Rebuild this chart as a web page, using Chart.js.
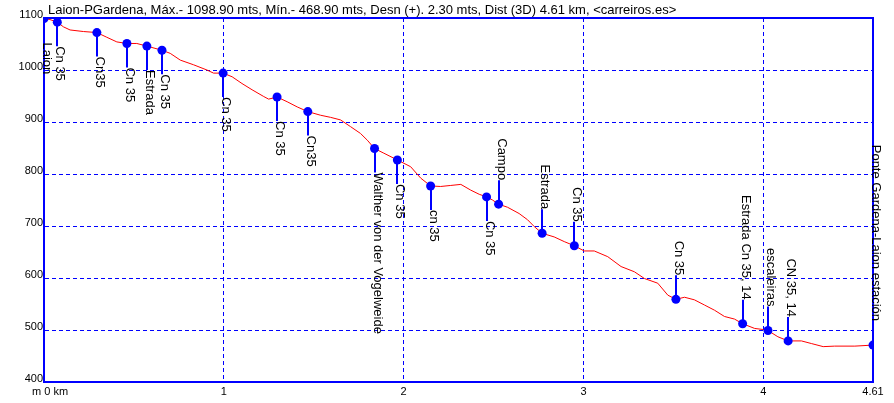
<!DOCTYPE html>
<html>
<head>
<meta charset="utf-8">
<script src="https://cdn.jsdelivr.net/npm/chart.js@4"></script>
<style>
  html, body { margin: 0; padding: 0; background: #fff; }
  canvas { display: block; }
</style>
</head>
<body>
<canvas id="perfil" width="894" height="403"></canvas>
<script>
// Titre du profil
const titulo = "Laion-PGardena, Máx.- 1098.90 mts, Mín.- 468.90 mts, Desn (+). 2.30 mts, Dist (3D) 4.61 km, <carreiros.es>";

// Profil : distance (km) et altitude (m)
const distKm = [0, 0.033, 0.074, 0.108, 0.145, 0.219, 0.294, 0.349, 0.405, 0.461, 0.516, 0.572, 0.656, 0.702,
  0.758, 0.832, 0.906, 0.943, 0.996, 1.046, 1.101, 1.157, 1.222, 1.249, 1.296, 1.352, 1.408, 1.467, 1.538,
  1.593, 1.649, 1.705, 1.760, 1.798, 1.838, 1.890, 1.965, 2.039, 2.095, 2.150, 2.206, 2.262, 2.318, 2.373,
  2.420, 2.461, 2.494, 2.528, 2.578, 2.642, 2.689, 2.726, 2.770, 2.837, 2.893, 2.949, 3.004, 3.060, 3.135,
  3.209, 3.283, 3.339, 3.413, 3.469, 3.514, 3.562, 3.617, 3.673, 3.729, 3.784, 3.840, 3.885, 3.952, 3.998,
  4.026, 4.081, 4.138, 4.212, 4.267, 4.333, 4.397, 4.509, 4.61];
const altitud = [1099, 1097, 1092, 1083, 1077, 1074, 1072, 1063, 1054, 1051, 1051, 1046, 1038, 1032,
  1019, 1010, 1000, 994, 994, 987, 974, 962, 949, 944, 948, 939, 929, 920, 913,
  909, 904, 891, 878, 865, 849, 840, 827, 814, 792, 777, 776, 778, 780, 769,
  761, 756, 750, 742, 736, 724, 712, 699, 686, 679, 670, 662, 652, 652, 641,
  622, 612, 599, 590, 567, 559, 563, 558, 548, 538, 526, 521, 512, 503, 501,
  499, 487, 479, 479, 474, 468, 469, 469, 471];

// Points de passage
const wpKm = [0, 0.074, 0.294, 0.461, 0.572, 0.656, 0.996, 1.296, 1.467, 1.838, 1.965, 2.150, 2.461,
  2.528, 2.770, 2.949, 3.514, 3.885, 4.026, 4.138, 4.61];
const wpAlt = [1099, 1092, 1072, 1051, 1046, 1038, 994, 948, 920, 849, 827, 777, 756,
  742, 686, 662, 559, 512, 499, 479, 471];
const wpNombre = ["Laion", "Cn 35", "Cn35", "Cn 35", "Estrada", "Cn 35", "Cn 35", "Cn 35", "Cn35",
  "Walther von der Vogelweide", "Cn 35", "cn 35", "Cn 35", "Campo", "Estrada", "Cn 35", "Cn 35",
  "Estrada Cn 35, 14", "escaleiras", "CN 35, 14", "Ponte Gardena-Laion estación"];

// Graduations
const ticksX = [0, 1, 2, 3, 4, 4.61];
const ticksY = [400, 500, 600, 700, 800, 900, 1000, 1100];

const AZUL = '#0000ff';
const FUENTE = '"Liberation Sans", Arial, sans-serif';

const etiquetas = {
  id: 'etiquetas',
  beforeDatasetsDraw(chart) {
    const { ctx, chartArea: a, scales: { x, y } } = chart;
    ctx.save();
    ctx.setLineDash([]);
    // cadre
    ctx.strokeStyle = AZUL;
    ctx.lineWidth = 2;
    ctx.strokeRect(Math.round(a.left), Math.round(a.top),
      Math.round(a.right - a.left), Math.round(a.bottom - a.top));
    // tiges des points
    wpKm.forEach((km, i) => {
      const px = Math.round(x.getPixelForValue(km));
      const py = y.getPixelForValue(wpAlt[i]);
      const arriba = i >= 13;
      ctx.strokeStyle = AZUL;
      ctx.lineWidth = 2;
      ctx.beginPath();
      ctx.moveTo(px, py);
      ctx.lineTo(px, arriba ? py - 24 : py + 24);
      ctx.stroke();
    });
    ctx.restore();
  },
  afterDatasetsDraw(chart) {
    const { ctx, scales: { x, y } } = chart;
    ctx.save();
    ctx.fillStyle = '#000';
    ctx.font = '13px ' + FUENTE;
    ctx.textBaseline = 'alphabetic';
    wpKm.forEach((km, i) => {
      const px = Math.round(x.getPixelForValue(km));
      const py = y.getPixelForValue(wpAlt[i]);
      const arriba = i >= 13;
      ctx.save();
      ctx.translate(px, arriba ? py - 24 : py + 24);
      ctx.rotate(Math.PI / 2);
      ctx.textAlign = arriba ? 'right' : 'left';
      ctx.fillText(wpNombre[i], 0, 1);
      ctx.restore();
    });
    ctx.restore();
  },
  afterDraw(chart) {
    const { ctx } = chart;
    ctx.save();
    ctx.fillStyle = '#000';
    ctx.font = '13px ' + FUENTE;
    ctx.textAlign = 'left';
    ctx.textBaseline = 'alphabetic';
    ctx.fillText(titulo, 48, 14);
    ctx.restore();
  }
};

new Chart(document.getElementById('perfil'), {
  type: 'scatter',
  data: {
    datasets: [
      {
        label: 'Puntos',
        data: wpKm.map((km, i) => ({ x: km, y: wpAlt[i] })),
        showLine: false,
        pointRadius: 4.5,
        pointBackgroundColor: AZUL,
        pointBorderColor: AZUL,
        pointBorderWidth: 0
      },
      {
        label: 'Perfil',
        data: distKm.map((km, i) => ({ x: km, y: altitud[i] })),
        showLine: true,
        borderColor: '#ff0000',
        borderWidth: 1,
        pointRadius: 0,
        tension: 0
      }
    ]
  },
  options: {
    responsive: false,
    animation: false,
    devicePixelRatio: 1,
    layout: { padding: { top: 18, right: 21, left: 0, bottom: 0 } },
    plugins: {
      legend: { display: false },
      tooltip: { enabled: false }
    },
    scales: {
      x: {
        type: 'linear',
        min: 0,
        max: 4.61,
        afterBuildTicks: s => { s.ticks = ticksX.map(v => ({ value: v })); },
        afterFit: s => { s.height = 21; },
        ticks: {
          color: '#000',
          font: { family: FUENTE, size: 11 },
          padding: 3,
          maxRotation: 0,
          autoSkip: false,
          // "0" juste à droite de l'axe
          callback: v => v === 0 ? '    m 0 km' : String(v)
        },
        grid: { color: AZUL, lineWidth: 1, drawTicks: false },
        border: { display: true, color: AZUL, width: 1, dash: [4, 3] }
      },
      y: {
        type: 'linear',
        min: 400,
        max: 1100,
        afterBuildTicks: s => { s.ticks = ticksY.map(v => ({ value: v })); },
        afterFit: s => { s.width = 44; },
        ticks: {
          color: '#000',
          font: { family: FUENTE, size: 11 },
          padding: 1,
          labelOffset: -3,
          callback: v => String(v)
        },
        grid: { color: AZUL, lineWidth: 1, drawTicks: false },
        border: { display: true, color: AZUL, width: 1, dash: [4, 3] }
      }
    }
  },
  plugins: [etiquetas]
});
</script>
</body>
</html>
